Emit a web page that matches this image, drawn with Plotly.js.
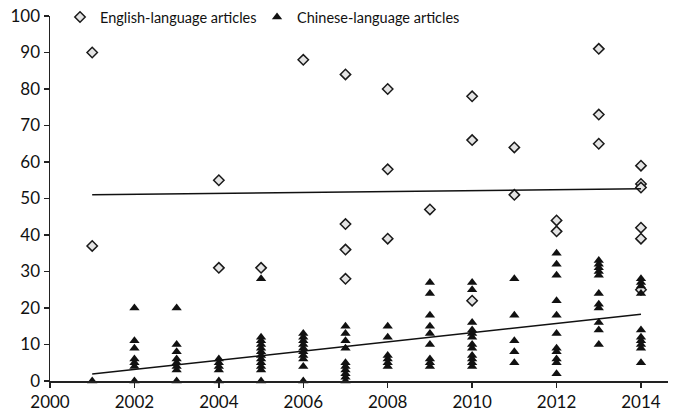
<!DOCTYPE html>
<html>
<head>
<meta charset="utf-8">
<script src="https://cdn.plot.ly/plotly-3.0.1.min.js"></script>
<style>html,body{margin:0;padding:0;background:#fff;}#chart{width:678px;height:413px;}</style>
</head>
<body>
<div id="chart"></div>
<script>
// English-language articles (year, count)
const englishYears = [2001,2001,2004,2004,2005,2006,2007,2007,2007,2007,2008,2008,2008,2009,2010,2010,2010,2011,2011,2012,2012,2013,2013,2013,2014,2014,2014,2014,2014,2014];
const englishValues = [90,37,55,31,31,88,84,43,36,28,80,58,39,47,78,66,22,64,51,44,41,91,73,65,59,54,53,42,39,25];

// Chinese-language articles, per year
const chineseYearList = [2001,2002,2003,2004,2005,2006,2007,2008,2009,2010,2011,2012,2013,2014];
const chineseCounts = [
  [0],[0,4,5,6,9,11,20],[0,3,4,5,6,8,10,20],[0,3,4,5,6],[0,3,4,5,6,7,8,9,10,11,12,28],
  [0,4,6,7,8,9,10,11,12,13],[0,1,2,3,4,5,9,11,13,15],[4,5,6,7,12,15],[4,5,6,10,13,15,18,24,27],
  [4,5,6,7,9,10,12,13,14,16,25,27],[5,8,11,18,28],[2,5,6,8,9,13,18,22,29,32,35],
  [10,14,16,20,21,24,29,30,31,32,33],[5,9,10,11,12,14,24,26,27,28]
];

// Trend lines
const trendYears = [2001, 2014];
const englishTrend = [51.0, 52.7];
const chineseTrend = [1.9, 18.3];

const xTicks = [2000,2002,2004,2006,2008,2010,2012,2014];
const yTicks = [0,10,20,30,40,50,60,70,80,90,100];

const chineseYears = [], chineseValues = [];
chineseYearList.forEach((y, i) => chineseCounts[i].forEach(v => { chineseYears.push(y); chineseValues.push(v); }));

const FONT = 'Lato, "Open Sans", sans-serif';
const traces = [
  {x: englishYears, y: englishValues, type: 'scatter', mode: 'markers', name: 'English-language articles',
   marker: {symbol: 'diamond', size: 8, color: '#e4e4e4', line: {color: '#1a1a1a', width: 1.5}}, cliponaxis: false, legend: 'legend'},
  {x: chineseYears, y: chineseValues, type: 'scatter', mode: 'markers', name: 'Chinese-language articles',
   marker: {symbol: 'triangle-up', size: 9, color: '#111111', line: {width: 0}}, cliponaxis: false, legend: 'legend2'},
  {x: trendYears, y: englishTrend, type: 'scatter', mode: 'lines', line: {color: '#111', width: 1.5}, showlegend: false},
  {x: trendYears, y: chineseTrend, type: 'scatter', mode: 'lines', line: {color: '#111', width: 1.5}, showlegend: false}
];
const legBase = {orientation: 'h', xanchor: 'left', y: 0.997, yanchor: 'middle', bgcolor: 'rgba(0,0,0,0)',
  font: {family: FONT, size: 14.5, color: '#111'}, itemwidth: 30};
const layout = {
  width: 678, height: 413, margin: {l: 50, r: 10, t: 16, b: 32, autoexpand: false},
  paper_bgcolor: '#fff', plot_bgcolor: '#fff', font: {family: FONT, size: 14, color: '#111'},
  showlegend: true,
  legend: Object.assign({}, legBase, {x: 0.0162}),
  legend2: Object.assign({}, legBase, {x: 0.335}),
  xaxis: {range: [2000, 2014.64], tickvals: xTicks, ticktext: xTicks.map(String), showgrid: false, zeroline: false,
    showline: true, linecolor: '#222', linewidth: 1.5, ticks: 'outside', ticklen: 5, tickcolor: '#222', tickwidth: 1.5,
    tickfont: {family: FONT, size: 17, color: '#111'}},
  yaxis: {range: [0, 100], tickvals: yTicks, ticktext: yTicks.map(String), showgrid: false, zeroline: false,
    showline: true, linecolor: '#222', linewidth: 1.5, ticks: 'outside', ticklen: 5, tickcolor: '#222', tickwidth: 1.5,
    tickfont: {family: FONT, size: 17, color: '#111'}}
};
Plotly.newPlot('chart', traces, layout, {staticPlot: true, displayModeBar: false});
</script>
</body>
</html>
